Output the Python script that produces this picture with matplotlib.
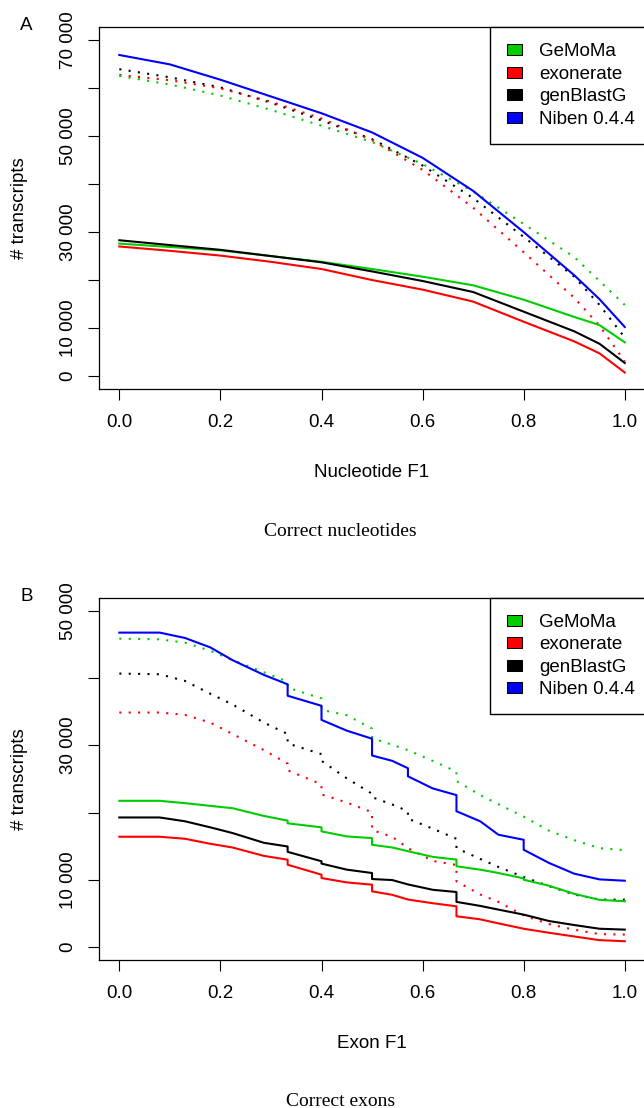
import matplotlib
matplotlib.use("Agg")
import matplotlib.pyplot as plt
from matplotlib.patches import Rectangle, Patch
from matplotlib.legend_handler import HandlerPatch

plt.rcParams['font.family'] = ['Liberation Sans', 'DejaVu Sans']

# ---------------- data ----------------
tools = ["GeMoMa", "exonerate", "genBlastG", "Niben 0.4.4"]
tool_colors = ["#00CD00", "#FF0000", "#000000", "#0000FF"]

# Panel A: nucleotide F1 threshold vs # transcripts
nuc_f1 = [0.0, 0.1, 0.2, 0.3, 0.4, 0.5, 0.6, 0.7, 0.8, 0.9, 0.95, 1.0]
nuc_gemoma_solid = [27600, 26900, 26200, 25000, 23800, 22300, 20700, 18900, 15900, 12300, 10600, 7000]
nuc_exonerate_solid = [27000, 26100, 25100, 23800, 22300, 20000, 18000, 15500, 11300, 7200, 4700, 700]
nuc_genblastg_solid = [28300, 27300, 26300, 25000, 23700, 21800, 19800, 17500, 13400, 9300, 6700, 2700]
nuc_niben_solid = [66960, 65000, 61800, 58300, 54800, 50800, 45500, 38600, 30000, 21000, 16000, 10200]
nuc_gemoma_dotted = [62600, 60800, 58500, 55500, 52200, 48800, 44200, 38500, 31700, 24800, 19800, 14800]
nuc_exonerate_dotted = [62800, 61700, 60000, 57200, 53700, 49200, 43000, 35100, 25800, 16300, 10500, 3000]
nuc_genblastg_dotted = [64000, 62300, 60200, 57000, 53300, 49400, 43900, 37100, 29000, 20700, 14800, 8000]

# Panel B: exon F1 threshold vs # transcripts (repeated x = step)
exon_f1 = [0.0, 0.08, 0.13, 0.18, 0.224, 0.286, 0.333, 0.333, 0.4, 0.4, 0.45, 0.5, 0.5,
           0.54, 0.571, 0.571, 0.62, 0.667, 0.667, 0.714, 0.75, 0.8, 0.8, 0.85, 0.9, 0.95, 1.0]
exon_gemoma_solid = [21750, 21750, 21400, 21000, 20650, 19500, 18800, 18400, 17800, 17200, 16450, 16200, 15200,
                     14800, 14250, 14250, 13400, 13000, 12000, 11500, 11000, 10200, 10000, 9100, 7900, 7000, 6790]
exon_exonerate_solid = [16400, 16400, 16100, 15350, 14800, 13550, 12980, 12230, 10750, 10250, 9600, 9260, 8270,
                        7750, 7050, 7050, 6500, 6040, 4560, 4100, 3500, 2700, 2700, 2100, 1550, 1000, 840]
exon_genblastg_solid = [19270, 19270, 18700, 17800, 16950, 15500, 14950, 14150, 12750, 12400, 11500, 11000, 10100,
                        9950, 9300, 9300, 8500, 8170, 6700, 6100, 5550, 4800, 4800, 3850, 3250, 2700, 2570]
exon_niben_solid = [46800, 46800, 46000, 44600, 42700, 40500, 39100, 37400, 35900, 33800, 32200, 31000, 28500,
                    27700, 26600, 25400, 23600, 22600, 20200, 18700, 16700, 15950, 14460, 12500, 10900, 10050, 9850]
exon_gemoma_dotted = [45900, 45800, 45300, 44100, 42700, 40900, 39500, 38600, 37000, 35300, 34500, 32500, 31060,
                      30100, 29300, 29300, 27700, 26100, 24700, 22600, 21250, 19400, 19400, 17300, 15900, 14700, 14400]
exon_exonerate_dotted = [34900, 34900, 34550, 33400, 31700, 29300, 27300, 26300, 24200, 22700, 21500, 20050, 17400,
                         16400, 14700, 14700, 12800, 12200, 9760, 7800, 6700, 4700, 4700, 3400, 2550, 1900, 1830]
exon_genblastg_dotted = [40700, 40600, 39600, 37700, 36100, 33400, 31700, 30300, 28700, 27700, 25100, 22800, 22300,
                         21200, 20200, 19100, 17600, 16100, 14700, 13100, 11900, 10400, 10400, 9050, 7800, 7050, 7030]

x_ticks = [0.0, 0.2, 0.4, 0.6, 0.8, 1.0]
x_tick_labels = ["0.0", "0.2", "0.4", "0.6", "0.8", "1.0"]
a_y_ticks = [0, 10000, 20000, 30000, 40000, 50000, 60000, 70000]
a_y_tick_labels = ["0", "10 000", "", "30 000", "", "50 000", "", "70 000"]
b_y_ticks = [0, 10000, 20000, 30000, 40000, 50000]
b_y_tick_labels = ["0", "10 000", "", "30 000", "", "50 000"]

# ---------------- figure ----------------
W, H = 644, 1108
fig = plt.figure(figsize=(W / 100, H / 100), dpi=100)

FS = 13.5
LW = 1.5
DOT = (0, (1, 3.5))


def px_axes(left, top, right, bottom):
    return fig.add_axes([left / W, 1 - bottom / H, (right - left) / W, (bottom - top) / H])


class BoxHandler(HandlerPatch):
    def create_artists(self, legend, orig_handle, xdescent, ydescent, width, height, fontsize, trans):
        w, h = 10.3, 7.9
        x0 = -xdescent + width - w
        y0 = -ydescent + (height - h) / 2
        p = Rectangle((x0, y0), w, h, facecolor=orig_handle.get_facecolor(),
                      edgecolor='black', linewidth=0.75, transform=trans)
        return [p]


def style_axes(ax, yticks, ylabels, ylim):
    ax.set_xlim(-0.04, 1.04)
    ax.set_ylim(*ylim)
    ax.set_xticks(x_ticks)
    ax.set_xticklabels(x_tick_labels)
    ax.set_yticks(yticks)
    ax.set_yticklabels(ylabels)
    for s in ax.spines.values():
        s.set_linewidth(0.9)
        s.set_color('black')
    ax.tick_params(axis='both', direction='out', length=8.1, width=0.8, labelsize=FS, colors='black')
    ax.tick_params(axis='x', pad=10)
    ax.tick_params(axis='y', pad=8, labelrotation=90)
    for lab in ax.get_yticklabels():
        lab.set_va('center')
    handles = [Patch(facecolor=c, edgecolor='black') for c in tool_colors]
    bb = ax.get_position()
    leg = ax.legend(handles, tools, loc='upper left',
                    bbox_to_anchor=(490 / W, bb.y1), bbox_transform=fig.transFigure,
                    borderaxespad=0, borderpad=0.85, labelspacing=0.29,
                    handlelength=0.84, handleheight=0.7, handletextpad=0.91,
                    fontsize=FS, frameon=True, fancybox=False, framealpha=1,
                    edgecolor='black', handler_map={Patch: BoxHandler()})
    leg.get_frame().set_linewidth(1.0)


# Panel A
axA = px_axes(99.1, 27, 645, 389.3)
axA.plot(nuc_f1, nuc_genblastg_dotted, color=tool_colors[2], lw=LW, ls=DOT)
axA.plot(nuc_f1, nuc_exonerate_dotted, color=tool_colors[1], lw=LW, ls=DOT)
axA.plot(nuc_f1, nuc_gemoma_dotted, color=tool_colors[0], lw=LW, ls=DOT)
axA.plot(nuc_f1, nuc_gemoma_solid, color=tool_colors[0], lw=LW)
axA.plot(nuc_f1, nuc_exonerate_solid, color=tool_colors[1], lw=LW)
axA.plot(nuc_f1, nuc_genblastg_solid, color=tool_colors[2], lw=LW)
axA.plot(nuc_f1, nuc_niben_solid, color=tool_colors[3], lw=LW)
style_axes(axA, a_y_ticks, a_y_tick_labels, (-2800, 72800))

# Panel B
axB = px_axes(99.1, 597.7, 645, 960.3)
axB.plot(exon_f1, exon_genblastg_dotted, color=tool_colors[2], lw=LW, ls=DOT)
axB.plot(exon_f1, exon_exonerate_dotted, color=tool_colors[1], lw=LW, ls=DOT)
axB.plot(exon_f1, exon_gemoma_dotted, color=tool_colors[0], lw=LW, ls=DOT)
axB.plot(exon_f1, exon_gemoma_solid, color=tool_colors[0], lw=LW)
axB.plot(exon_f1, exon_exonerate_solid, color=tool_colors[1], lw=LW)
axB.plot(exon_f1, exon_genblastg_solid, color=tool_colors[2], lw=LW)
axB.plot(exon_f1, exon_niben_solid, color=tool_colors[3], lw=LW)
style_axes(axB, b_y_ticks, b_y_tick_labels, (-2000, 52000))


def ftext(x, y, s, **kw):
    fig.text(x / W, 1 - y / H, s, **kw)


# panel letters
ftext(20, 30, "A", fontsize=FS, ha='left', va='baseline')
ftext(20, 600.7, "B", fontsize=FS, ha='left', va='baseline')

# y labels
ftext(19.7, (27 + 389.3) / 2, "# transcripts", fontsize=FS, rotation=90, ha='center', va='center')
ftext(19.7, (597.7 + 960.3) / 2, "# transcripts", fontsize=FS, rotation=90, ha='center', va='center')

# x labels
ftext(372, 477.3, "Nucleotide F1", fontsize=FS, ha='center', va='baseline')
ftext(372, 1048.3, "Exon F1", fontsize=FS, ha='center', va='baseline')

# bottom titles (serif)
ftext(340.5, 535.5, "Correct nucleotides", fontsize=14, ha='center', va='baseline',
      family=['Liberation Serif', 'DejaVu Serif'])
ftext(340.5, 1105.5, "Correct exons", fontsize=14, ha='center', va='baseline',
      family=['Liberation Serif', 'DejaVu Serif'])

fig.savefig("out.png", dpi=100)
